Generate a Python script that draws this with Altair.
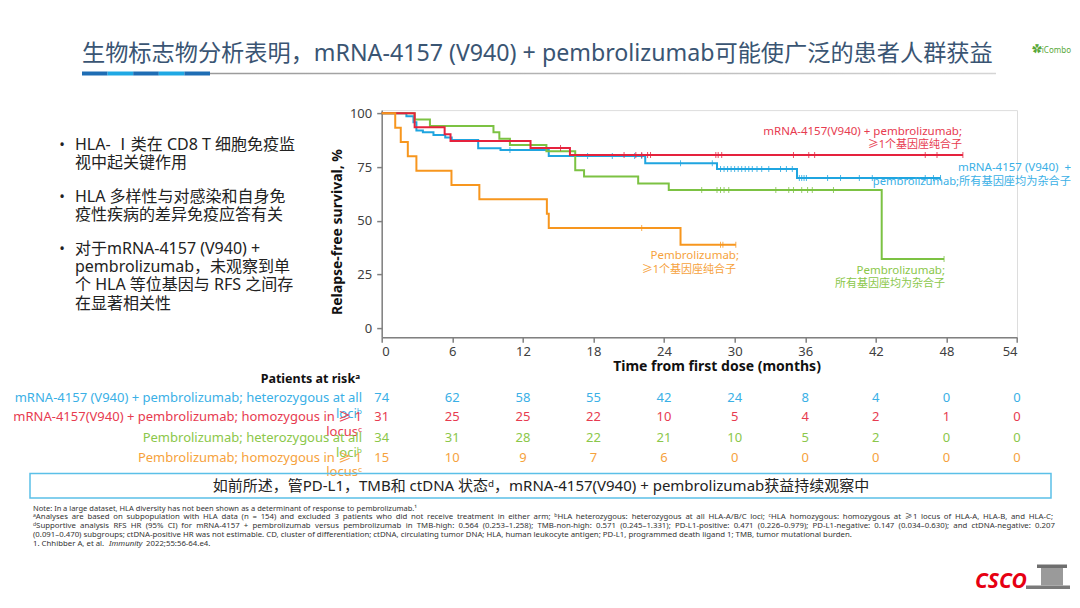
import altair as alt
import pandas as pd

FONT = "Noto Sans, Noto Sans CJK SC, sans-serif"

# ---------------- data ----------------
months = [0, 6, 12, 18, 24, 30, 36, 42, 48, 54]

# mRNA-4157 (V940) + pembrolizumab; heterozygous at all loci
mh_t = [0, 2.1, 2.7, 2.95, 3.5, 4.4, 5.4, 5.95, 8.2, 10.1, 14.2, 22.4, 28.5, 35.3, 47.5]
mh_s = [100, 98.6, 95.9, 92.0, 91.2, 89.9, 88.7, 87.6, 83.8, 82.9, 80.1, 76.8, 74.1, 69.9, 69.9]
mh_cens = [10.9, 17.5, 19.6, 21.5, 22.1, 25.4, 28.1, 28.8, 29.1, 29.4, 29.7, 30.0, 30.3, 30.6,
           30.9, 31.2, 31.5, 31.9, 32.3, 32.9, 33.9, 34.4, 34.9, 35.5, 35.7, 35.9, 36.1, 37.9,
           39.0, 40.6, 41.7, 46.2, 46.9, 47.5]

# mRNA-4157 (V940) + pembrolizumab; homozygous in >=1 locus
rh_t = [0, 2.8, 5.35, 5.85, 12.65, 16.0, 49.4]
rh_s = [100, 93.5, 90.3, 87.1, 83.9, 80.6, 80.6]
rh_cens = [15.2, 20.6, 21.6, 22.1, 22.6, 22.85, 28.4, 28.6, 28.9, 35.0, 36.3, 36.8, 46.2, 47.2, 49.4]

# Pembrolizumab; heterozygous at all loci
ph_t = [0, 2.8, 4.1, 9.5, 10.0, 10.9, 14.0, 16.45, 17.2, 21.8, 24.4, 42.5, 47.8]
ph_s = [100, 97.1, 94.1, 91.2, 88.2, 85.3, 82.4, 73.5, 70.6, 67.3, 64.3, 32.2, 32.2]
ph_cens = [27.2, 28.5, 28.8, 29.1, 29.5, 33.5, 34.6, 35.0, 35.7, 36.2, 36.6, 38.4, 47.8]

# Pembrolizumab; homozygous in >=1 locus
po_t = [0, 1.15, 1.62, 2.22, 2.95, 5.93, 8.3, 14.04, 14.2, 25.4, 30.1]
po_s = [100, 93.3, 86.7, 80.0, 73.3, 66.7, 60.0, 53.3, 46.7, 38.9, 38.9]
po_cens = [22.1, 28.8, 29.0, 30.1]

# patients at risk
risk_mh = [74, 62, 58, 55, 42, 24, 8, 4, 0, 0]
risk_rh = [31, 25, 25, 22, 10, 5, 4, 2, 1, 0]
risk_ph = [34, 31, 28, 22, 21, 10, 5, 2, 0, 0]
risk_po = [15, 10, 9, 7, 6, 0, 0, 0, 0, 0]

y_ticks = [0, 25, 50, 75, 100]

# ---------------- styles ----------------
BLUE, RED, GREEN, ORANGE = "#1FA5E0", "#E5223D", "#7CC243", "#F7961E"
BLUE_T, RED_T, GREEN_T, ORANGE_T = "#3AB0E6", "#E73B50", "#8BC74A", "#F6A23C"

OX, OY = 381.7, 110.1          # page position of plot origin
W, H = 635.3, 227.2
TOTAL_W, TOTAL_H = 1064, 588

ONE = pd.DataFrame({"k": [0]})

xscale = alt.Scale(domain=[0, 54], nice=False, zero=False)
yscale = alt.Scale(domain=[-4.2, 101.5], nice=False, zero=False)
axis_common = dict(labelFont=FONT, labelFontSize=13, labelColor="#404040", domainColor="#808080",
                   tickColor="#808080", domainWidth=1.5, tickWidth=1.5, tickSize=5, grid=False)
xaxis = alt.Axis(values=months, labelPadding=3, **axis_common)
yaxis = alt.Axis(values=y_ticks, labelPadding=5, **axis_common)
X = alt.X("t:Q", scale=xscale, axis=xaxis, title=None)
Y = alt.Y("s:Q", scale=yscale, axis=yaxis, title=None)


def txt(s, px, py, size=12, color="#222222", align="left", weight="normal",
        font=FONT, baseline="middle", angle=None, style=None):
    kw = dict(text=s, align=align, baseline=baseline, fontSize=size, color=color,
              font=font, fontWeight=weight)
    if angle is not None:
        kw["angle"] = angle
    if style is not None:
        kw["fontStyle"] = style
    return alt.Chart(ONE).mark_text(**kw).encode(x=alt.value(px - OX), y=alt.value(py - OY))


# approximate Noto Sans advance widths (per 1000 em) used to justify footnote lines
_WID = {" ": 260, "(": 296, ")": 296, ",": 250, "-": 322, ".": 266, "/": 367, ":": 266, ";": 266,
        "=": 572, "+": 572, "%": 832, "–": 500, "≥": 572, "¹": 360, "ᵃ": 380, "ᵇ": 380, "ᶜ": 350, "ᵈ": 380,
        "A": 639, "B": 650, "C": 632, "D": 729, "E": 556, "F": 519, "G": 728, "H": 738, "I": 279,
        "K": 613, "L": 519, "M": 907, "N": 754, "O": 782, "P": 602, "R": 618, "S": 549, "T": 553,
        "U": 728, "V": 595, "W": 925, "a": 561, "b": 615, "c": 480, "d": 615, "e": 564, "f": 344,
        "g": 615, "h": 618, "i": 258, "j": 258, "k": 534, "l": 258, "m": 935, "n": 618, "o": 605,
        "p": 615, "q": 615, "r": 413, "s": 479, "t": 361, "u": 618, "v": 508, "w": 786, "x": 529,
        "y": 510, "z": 470}


def est_w(s, size):
    return sum(_WID.get(c, 572) for c in s) / 1000.0 * size


def justified(s, x0, x1, py, size, color):
    words = [w for w in s.split(" ") if w]
    widths = [est_w(w, size) for w in words]
    gap = ((x1 - x0) - sum(widths)) / (len(words) - 1)
    out, x = [], x0
    for k, (w, wd) in enumerate(zip(words, widths)):
        if k == len(words) - 1:
            out.append(txt(w, x1, py, size, color, align="right"))
        else:
            out.append(txt(w, x, py, size, color))
        x += wd + gap
    return out


def rect(x1, x2, y1, y2, **kw):
    return alt.Chart(ONE).mark_rect(**kw).encode(
        x=alt.value(x1 - OX), x2=alt.value(x2 - OX), y=alt.value(y1 - OY), y2=alt.value(y2 - OY))


def step_at(ts, ss, t):
    v = ss[0]
    for a, b in zip(ts, ss):
        if a <= t:
            v = b
    return v


layers = []

# ---- KM curves ----
groups = [
    (mh_t, mh_s, mh_cens, BLUE),
    (ph_t, ph_s, ph_cens, GREEN),
    (rh_t, rh_s, rh_cens, RED),
    (po_t, po_s, po_cens, ORANGE),
]
for ts, ss, cens, col in groups:
    df = pd.DataFrame({"t": ts, "s": ss})
    layers.append(alt.Chart(df).mark_line(interpolate="step-after", strokeWidth=2, color=col)
                  .encode(x=X, y=Y))
    cdf = pd.DataFrame({"t": cens, "s": [step_at(ts, ss, c) for c in cens]})
    layers.append(alt.Chart(cdf).mark_tick(orient="vertical", size=6, thickness=1, color=col, opacity=0.8)
                  .encode(x=X, y=Y))

# ---- axis titles ----
layers.append(txt("Relapse-free survival, %", 337.5, 232, size=14, color="#111111",
                  weight="bold", align="center", angle=270))
layers.append(txt("Time from first dose (months)", 717, 367, size=14, color="#111111",
                  weight="bold", align="center"))

# ---- curve labels ----
layers += [
    txt("mRNA-4157(V940)  + pembrolizumab;", 962, 131.5, 11.5, RED_T, align="right"),
    txt("≥1个基因座纯合子", 962, 145, 11, RED_T, align="right"),
    txt("mRNA-4157 (V940)\u00a0 +", 1071, 168, 11.5, BLUE_T, align="right"),
    txt("pembrolizumab;所有基因座均为杂合子", 1071, 182, 11.2, BLUE_T, align="right"),
    txt("Pembrolizumab;", 739, 256, 11.5, ORANGE_T, align="right"),
    txt("≥1个基因座纯合子", 736, 270, 11, ORANGE_T, align="right"),
    txt("Pembrolizumab;", 945, 270.5, 11.5, GREEN_T, align="right"),
    txt("所有基因座均为杂合子", 945, 284, 11, GREEN_T, align="right"),
]

# ---- patients at risk ----
layers.append(txt("Patients at riskᵃ", 360, 378.5, 12.5, "#111111", align="right", weight="bold"))
rows = [
    (risk_mh, 398, BLUE_T, "mRNA-4157 (V940) + pembrolizumab; heterozygous at all", "lociᵇ", 413.5),
    (risk_rh, 417, RED_T, "mRNA-4157(V940) + pembrolizumab; homozygous in ≥ 1", "locusᶜ", 432),
    (risk_ph, 438, GREEN_T, "Pembrolizumab; heterozygous at all", "lociᵇ", 452.5),
    (risk_po, 458, ORANGE_T, "Pembrolizumab; homozygous in ≥ 1", "locusᶜ", 471.5),
]
for vals, py, col, lab1, lab2, py2 in rows:
    layers.append(txt(lab1, 362, py, 13, col, align="right"))
    layers.append(txt(lab2, 362, py2, 13, col, align="right"))
    rdf = pd.DataFrame({"t": months, "n": vals})
    layers.append(alt.Chart(rdf).mark_text(fontSize=13, color=col, font=FONT, baseline="middle")
                  .encode(x=X, y=alt.value(py - OY), text="n:Q"))

# ---- title ----
layers.append(txt("生物标志物分析表明，mRNA-4157 (V940) + pembrolizumab可能使广泛的患者人群获益",
                  82, 54, 23.2, "#3A5573"))
seg_cols = ["#1E6DB4", "#1FA8E4", "#1E6DB4", "#1FA8E4", "#1E6DB4"]
for i, c in enumerate(seg_cols):
    layers.append(rect(82 + i * 25.6, 82 + (i + 1) * 25.6, 71.5, 75.5, color=c))
layers.append(rect(210, 996, 72.8, 74.3, color=alt.Gradient(
    gradient="linear", x1=0, x2=1, y1=0, y2=0,
    stops=[alt.GradientStop(color="#9A9A9A", offset=0), alt.GradientStop(color="#D5D5D5", offset=1)])))

# ---- logo text (top right) ----
layers.append(txt("iCombo", 1071, 51, 8, "#59A83A", align="right"))
layers.append(txt("✿", 1037, 50, 10, "#59A83A", align="center"))

# ---- bullets ----
bullets = [
    (["HLA- Ⅰ类在 CD8 T 细胞免疫监", "视中起关键作用"], 145),
    (["HLA 多样性与对感染和自身免", "疫性疾病的差异免疫应答有关"], 197),
    (["对于mRNA-4157 (V940) +", "pembrolizumab，未观察到单", "个 HLA 等位基因与 RFS 之间存", "在显著相关性"], 249),
]
for lines, y0 in bullets:
    layers.append(txt("•", 62, y0, 15, "#222222", align="center"))
    for j, ln in enumerate(lines):
        layers.append(txt(ln, 75, y0 + j * 18.2, 16, "#222222"))

# ---- box ----
layers.append(rect(30, 1051, 473.5, 498, fillOpacity=0, stroke="#5BC0E8", strokeWidth=1.5))
layers.append(txt("如前所述，管PD-L1，TMB和 ctDNA 状态ᵈ，mRNA-4157(V940) + pembrolizumab获益持续观察中",
                  541, 486, 15, "#222222", align="center"))

# ---- footnotes ----
FN = "#333333"
fn1 = "Note: In a large dataset, HLA diversity has not been shown as a determinant of response to pembrolizumab.¹"
fn2 = ("ᵃAnalyses are based on subpopulation with HLA data (n = 154) and excluded 3 patients who did not receive "
       "treatment in either arm; ᵇHLA heterozygous: heterozygous at all HLA-A/B/C loci; ᶜHLA homozygous: "
       "homozygous at ≥ 1 locus of HLA-A, HLA-B, and HLA-C;")
fn3 = ("ᵈSupportive analysis RFS HR (95% CI) for mRNA-4157 + pembrolizumab versus pembrolizumab in TMB-high: "
       "0.564 (0.253–1.258); TMB-non-high: 0.571 (0.245–1.331); PD-L1-positive: 0.471 (0.226–0.979); "
       "PD-L1-negative: 0.147 (0.034–0.630); and ctDNA-negative: 0.207")
fn4 = ("(0.091–0.470)  subgroups; ctDNA-positive  HR was not estimable. CD, cluster of differentiation;  ctDNA, "
       "circulating tumor DNA; HLA, human leukocyte antigen; PD-L1, programmed  death ligand 1; TMB, tumor "
       "mutational  burden.")
layers += justified(fn1, 33, 417, 508.5, 7.5, FN)
layers += justified(fn2, 33, 1053, 517.2, 7.8, FN)
layers += justified(fn3, 33, 1055, 526, 7.8, FN)
layers.append(txt(fn4, 33, 534.8, 7.8, FN))
layers.append(txt("1. Chhibber A, et al.", 33, 543.6, 7.8, FN))
layers.append(txt("Immunity", 109, 543.6, 7.8, FN, style="italic"))
layers.append(txt("2022;55:56-64.e4.", 146, 543.6, 7.8, FN))

# ---- CSCO logo ----
layers.append(txt("CSCO", 975, 582, 21, "#E60012", weight="bold", style="italic"))
layers.append(rect(1026, 1070, 585.5, 589, color="#7A7A7A"))
layers.append(rect(1041, 1063, 568, 585.5, color="#9A9A9A"))
layers.append(rect(1037, 1067, 564.5, 568, color="#6E6E6E"))

chart = alt.layer(*layers).properties(
    width=W, height=H,
    padding={"left": OX - 8, "top": OY - 8, "right": TOTAL_W - (OX - 8) - W,
             "bottom": TOTAL_H - (OY - 8) - H},
    autosize=alt.AutoSizeParams(type="none"),
).configure_view(stroke=None).configure(background="white")

chart.save("out.html", embed_options={"renderer": "svg", "actions": False})
